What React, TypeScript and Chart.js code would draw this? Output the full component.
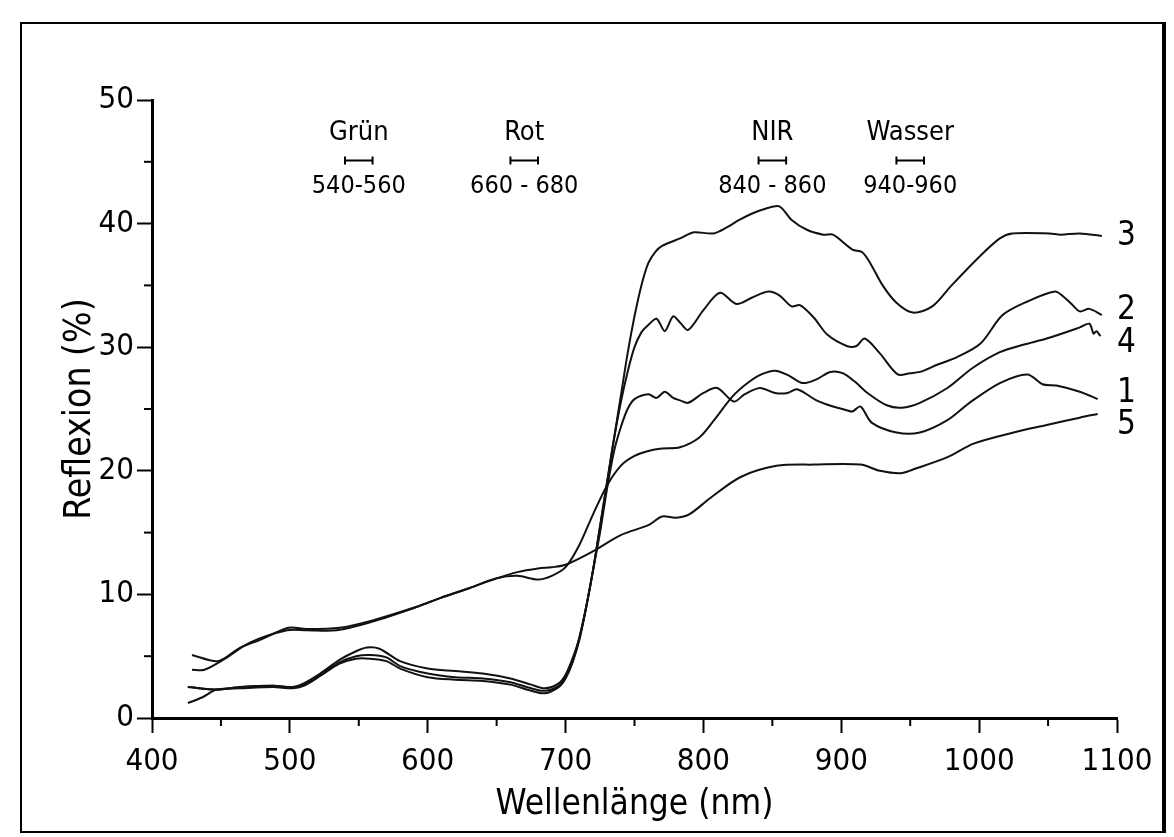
import React, { useEffect, useRef } from 'react';
import { Chart, registerables } from 'chart.js';

Chart.register(...registerables);

const FONT = "'DejaVu Sans Condensed', 'DejaVu Sans', sans-serif";

// Curve 1
const wl1 = [426, 447, 464, 488, 502, 510, 522, 536, 548, 556, 565, 580, 600, 620, 640, 660, 675, 685, 695, 700, 705, 710, 715, 720, 725, 730, 735, 740, 745, 750, 760, 766, 772, 778, 783, 789, 800, 810, 822, 830, 841, 852, 861, 868, 882, 894, 904, 908, 914, 922, 940, 957, 977, 993, 1015, 1035, 1046, 1056, 1073, 1086];
const r1 = [2.5, 2.3, 2.5, 2.6, 2.5, 2.8, 3.6, 4.7, 5.4, 5.7, 5.6, 4.6, 4.0, 3.8, 3.6, 3.2, 2.7, 2.4, 2.8, 3.5, 4.8, 6.5, 9.0, 12.0, 15.0, 18.5, 21.5, 23.5, 25.0, 25.8, 26.2, 25.9, 26.4, 25.9, 25.7, 25.5, 26.3, 26.7, 25.6, 26.2, 26.7, 26.3, 26.3, 26.6, 25.7, 25.2, 24.9, 24.8, 25.2, 23.9, 23.1, 23.1, 24.1, 25.5, 27.1, 27.8, 27.0, 26.9, 26.4, 25.8];

// Curve 2
const wl2 = [426, 447, 464, 488, 502, 510, 522, 536, 548, 558, 570, 580, 600, 620, 640, 660, 675, 685, 695, 700, 705, 710, 715, 720, 725, 730, 735, 740, 745, 750, 755, 760, 766, 772, 778, 783, 789, 800, 812, 824, 835, 847, 855, 864, 870, 880, 890, 904, 911, 917, 928, 941, 950, 957, 970, 984, 1001, 1017, 1035, 1055, 1061, 1067, 1073, 1080, 1089];
const r2 = [2.5, 2.3, 2.5, 2.6, 2.5, 2.7, 3.5, 4.5, 5.0, 5.1, 4.9, 4.2, 3.6, 3.3, 3.2, 2.9, 2.4, 2.2, 2.6, 3.3, 4.5, 6.3, 9.0, 12.0, 15.5, 19.0, 22.5, 25.5, 28.0, 30.0, 31.2, 31.8, 32.3, 31.3, 32.5, 32.0, 31.4, 33.0, 34.4, 33.5, 34.0, 34.5, 34.2, 33.3, 33.4, 32.4, 31.0, 30.1, 30.1, 30.7, 29.5, 27.8, 27.9, 28.0, 28.6, 29.2, 30.3, 32.6, 33.7, 34.5, 34.1, 33.5, 32.9, 33.1, 32.6];

// Curve 3
const wl3 = [426, 437, 447, 464, 488, 502, 510, 522, 536, 548, 558, 570, 580, 600, 620, 640, 660, 675, 685, 695, 700, 705, 710, 715, 720, 725, 730, 735, 740, 745, 750, 755, 760, 765, 770, 783, 793, 807, 817, 826, 835, 845, 855, 864, 875, 887, 894, 908, 915, 921, 930, 940, 952, 966, 980, 1000, 1015, 1024, 1051, 1059, 1073, 1089];
const r3 = [1.2, 1.7, 2.3, 2.4, 2.5, 2.4, 2.6, 3.4, 4.4, 4.8, 4.8, 4.6, 4.0, 3.3, 3.1, 3.0, 2.7, 2.2, 2.0, 2.5, 3.2, 4.5, 6.5, 9.0, 12.0, 15.5, 19.0, 22.5, 26.0, 29.5, 32.5, 35.0, 36.8, 37.7, 38.2, 38.8, 39.3, 39.2, 39.7, 40.3, 40.8, 41.2, 41.4, 40.3, 39.5, 39.1, 39.1, 37.9, 37.7, 36.8, 35.0, 33.6, 32.8, 33.3, 35.0, 37.3, 38.8, 39.2, 39.2, 39.1, 39.2, 39.0];

// Curve 4
const wl4 = [429, 438, 453, 471, 498, 512, 534, 560, 590, 609, 630, 650, 665, 680, 690, 700, 710, 720, 730, 740, 750, 760, 770, 783, 797, 807, 821, 832, 842, 852, 862, 872, 882, 892, 901, 910, 919, 933, 944, 957, 977, 995, 1015, 1032, 1049, 1073, 1080, 1083, 1085, 1088];
const r4 = [3.9, 3.9, 4.8, 6.1, 7.1, 7.1, 7.1, 7.8, 8.9, 9.7, 10.5, 11.3, 11.5, 11.2, 11.5, 12.2, 14.0, 16.5, 18.8, 20.4, 21.2, 21.6, 21.8, 21.9, 22.7, 24.0, 26.0, 27.1, 27.8, 28.1, 27.7, 27.1, 27.4, 28.0, 27.9, 27.2, 26.3, 25.3, 25.1, 25.5, 26.7, 28.3, 29.6, 30.2, 30.7, 31.6, 31.9, 31.1, 31.3, 30.9];

// Curve 5
const wl5 = [429, 448, 464, 478, 499, 512, 536, 560, 592, 609, 630, 650, 665, 680, 690, 700, 720, 740, 760, 770, 780, 790, 805, 827, 853, 880, 914, 928, 943, 952, 977, 996, 1025, 1049, 1073, 1086];
const r5 = [5.1, 4.6, 5.7, 6.3, 7.3, 7.2, 7.3, 7.9, 9.0, 9.7, 10.5, 11.3, 11.8, 12.1, 12.2, 12.4, 13.5, 14.8, 15.6, 16.3, 16.2, 16.5, 17.8, 19.5, 20.4, 20.5, 20.5, 20.0, 19.8, 20.1, 21.1, 22.2, 23.1, 23.7, 24.3, 24.6];

// Curve labels at the right end
const labelText = ['3', '2', '4', '1', '5'];
const labelValue = [39.0, 33.0, 30.3, 26.3, 23.7];
const labelWl = 1100;

// Spectral band annotations
const bandNames = ['Grün', 'Rot', 'NIR', 'Wasser'];
const bandStart = [540, 660, 840, 940];
const bandEnd = [560, 680, 860, 960];
const bandText = ['540-560', '660 - 680', '840 - 860', '940-960'];
const bandNameY = 47.3;
const bandBarY = 45.1;
const bandTextY = 43.0;

// Ticks
const xMinor = [450, 550, 650, 750, 850, 950, 1050];
const yMinor = [5, 15, 25, 35, 45];

const toPts = (w: number[], r: number[]) => w.map((x, i) => ({ x, y: r[i] }));

const overlay = {
  id: 'overlay',
  afterDraw(chart: any) {
    const ctx = chart.ctx;
    const xs = chart.scales.x;
    const ys = chart.scales.y;
    ctx.save();
    ctx.strokeStyle = '#000';
    ctx.fillStyle = '#000';
    ctx.lineWidth = 2;
    xMinor.forEach((v) => {
      const px = xs.getPixelForValue(v);
      ctx.beginPath();
      ctx.moveTo(px, ys.bottom);
      ctx.lineTo(px, ys.bottom + 8);
      ctx.stroke();
    });
    yMinor.forEach((v) => {
      const py = ys.getPixelForValue(v);
      ctx.beginPath();
      ctx.moveTo(xs.left, py);
      ctx.lineTo(xs.left - 8, py);
      ctx.stroke();
    });
    ctx.textAlign = 'center';
    ctx.textBaseline = 'middle';
    bandNames.forEach((n, i) => {
      const a = xs.getPixelForValue(bandStart[i]);
      const b = xs.getPixelForValue(bandEnd[i]);
      const c = (a + b) / 2;
      ctx.font = `27px ${FONT}`;
      ctx.fillText(n, c, ys.getPixelForValue(bandNameY));
      const by = ys.getPixelForValue(bandBarY);
      ctx.lineWidth = 2;
      ctx.beginPath();
      ctx.moveTo(a, by);
      ctx.lineTo(b, by);
      ctx.moveTo(a, by - 4);
      ctx.lineTo(a, by + 4);
      ctx.moveTo(b, by - 4);
      ctx.lineTo(b, by + 4);
      ctx.stroke();
      ctx.font = `25px ${FONT}`;
      ctx.fillText(bandText[i], c, ys.getPixelForValue(bandTextY));
    });
    ctx.font = `33px ${FONT}`;
    ctx.textAlign = 'left';
    labelText.forEach((t, i) => {
      ctx.fillText(t, xs.getPixelForValue(labelWl), ys.getPixelForValue(labelValue[i]));
    });
    ctx.restore();
  },
};

export default function App() {
  const ref = useRef<HTMLCanvasElement>(null);
  useEffect(() => {
    if (!ref.current) return;
    const series = [toPts(wl1, r1), toPts(wl2, r2), toPts(wl3, r3), toPts(wl4, r4), toPts(wl5, r5)];
    const chart = new Chart(ref.current, {
      type: 'line',
      data: {
        datasets: series.map((d, i) => ({
          label: String(i + 1),
          data: d,
          borderColor: '#111',
          borderWidth: 2,
          pointRadius: 0,
          tension: 0.3,
          fill: false,
        })),
      },
      options: {
        animation: false,
        responsive: false,
        devicePixelRatio: 1,
        layout: { padding: { top: 100, right: 57, left: 0, bottom: 0 } },
        plugins: { legend: { display: false }, tooltip: { enabled: false } },
        scales: {
          x: {
            type: 'linear',
            min: 400,
            max: 1100,
            ticks: {
              stepSize: 100,
              color: '#000',
              font: { family: FONT, size: 31 },
              padding: 10,
              maxRotation: 0,
              autoSkip: false,
              callback: (v: any) => String(v),
            },
            grid: { drawOnChartArea: false, drawTicks: true, tickLength: 15, tickWidth: 2, color: '#000' },
            border: { display: true, width: 3, color: '#000' },
            title: { display: true, text: 'Wellenlänge (nm)', color: '#000', font: { family: FONT, size: 35 }, padding: { top: 0, bottom: 11 } },
            afterFit: (s: any) => { s.height = 119; },
          },
          y: {
            type: 'linear',
            min: 0,
            max: 50,
            ticks: { stepSize: 10, color: '#000', font: { family: FONT, size: 31 }, padding: 3, callback: (v: any) => String(v) },
            grid: { drawOnChartArea: false, drawTicks: true, tickLength: 15, tickWidth: 2, color: '#000' },
            border: { display: true, width: 3, color: '#000' },
            title: { display: true, text: 'Reflexion (%)', color: '#000', font: { family: FONT, size: 37 }, padding: { top: 58, bottom: 0 } },
            afterFit: (s: any) => { s.width = 152; },
          },
        },
      },
      plugins: [overlay],
    });
    return () => chart.destroy();
  }, []);
  return (
    <div style={{ position: 'absolute', left: 0, top: 0, width: 1174, height: 837, background: '#fff' }}>
      <canvas ref={ref} width={1174} height={837} style={{ display: 'block' }} />
      <div
        style={{
          position: 'absolute',
          left: 20,
          top: 22,
          width: 1146,
          height: 811,
          boxSizing: 'border-box',
          borderTop: '2px solid #000',
          borderLeft: '2px solid #000',
          borderBottom: '2px solid #000',
          borderRight: '4px solid #000',
          pointerEvents: 'none',
        }}
      />
    </div>
  );
}
